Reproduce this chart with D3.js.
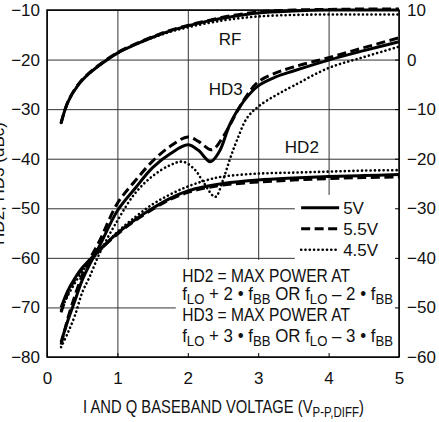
<!DOCTYPE html>
<html>
<head>
<meta charset="utf-8">
<script src="https://cdn.jsdelivr.net/npm/d3@7"></script>
<style>
  body { margin: 0; background: #fff; }
  svg text { font-family: "Liberation Sans", Arial, Helvetica, sans-serif; fill: #111; }
</style>
</head>
<body>
<div id="chart"></div>
<script>
// RF output (right axis, dBm) vs baseband voltage
const rfX = [0.2, 0.3, 0.45, 0.6, 0.75, 1.0, 1.25, 1.5, 1.75, 2.0, 2.3, 2.6, 3.0, 3.5, 4.0, 4.5, 5.0];
const rf5V = [-12.8, -8.5, -5.0, -2.8, -1.1, 1.3, 3.0, 4.5, 5.8, 6.8, 7.8, 8.6, 9.4, 9.8, 10.0, 10.0, 10.0];
const rf55V = [-12.8, -8.4, -4.9, -2.7, -1.0, 1.4, 3.1, 4.6, 5.9, 6.9, 7.9, 8.8, 9.6, 10.0, 10.1, 10.2, 10.2];
const rf45V = [-12.8, -8.5, -5.0, -2.8, -1.1, 1.3, 3.0, 4.4, 5.6, 6.5, 7.4, 8.1, 8.7, 9.0, 9.1, 9.1, 9.1];

// HD2 (left axis, dBc)
const hd2X = [0.2, 0.3, 0.4, 0.5, 0.6, 0.75, 1.0, 1.25, 1.5, 1.75, 2.0, 2.25, 2.5, 3.0, 3.5, 4.0, 4.5, 5.0];
const hd2_5V = [-70, -66.5, -64, -62, -60.5, -58.3, -55, -52.3, -50, -48, -46.5, -45.6, -45, -44.3, -43.9, -43.6, -43.4, -43.2];
const hd2_55V = [-71, -67, -64.3, -62.2, -60.6, -58.4, -55.2, -52.5, -50.2, -48.2, -46.8, -45.9, -45.3, -44.7, -44.3, -44.0, -43.8, -43.7];
const hd2_45V = [-70.5, -67.5, -65, -62.8, -61, -58.6, -54.8, -51.8, -49.2, -47.2, -45.6, -44.4, -43.6, -43.0, -42.8, -42.6, -42.4, -42.3];

// HD3 (left axis, dBc)
const hd3_5X = [0.2, 0.3, 0.4, 0.5, 0.6, 0.75, 1.0, 1.25, 1.5, 1.75, 2.0, 2.15, 2.32, 2.45, 2.6, 2.8, 3.0, 3.25, 3.5, 4.0, 4.5, 5.0];
const hd3_5V = [-77, -72.5, -68.5, -64.5, -61.5, -57.5, -50.5, -46, -41.8, -39, -37.2, -38.3, -40.6, -38.5, -33, -28.3, -25.3, -23.5, -22.3, -20.1, -18.2, -16.4];
const hd3_55X = [0.2, 0.3, 0.4, 0.5, 0.6, 0.75, 1.0, 1.25, 1.5, 1.75, 2.0, 2.15, 2.34, 2.5, 2.7, 2.85, 3.0, 3.25, 3.5, 4.0, 4.5, 5.0];
const hd3_55V = [-77.5, -72, -67.5, -63.5, -60.5, -56.5, -49, -44.5, -40.5, -37.5, -35.6, -36.5, -38.2, -35.6, -30.5, -27.0, -24.5, -22.7, -21.5, -19.6, -17.6, -15.6];
const hd3_45X = [0.2, 0.3, 0.4, 0.5, 0.6, 0.75, 1.0, 1.25, 1.5, 1.75, 1.93, 2.1, 2.22, 2.39, 2.5, 2.6, 2.7, 2.84, 3.0, 3.25, 3.5, 4.0, 4.5, 5.0];
const hd3_45V = [-78, -75, -71.5, -67, -64, -59, -52.5, -47, -43.5, -41.3, -40.6, -42.2, -44.7, -47.7, -44.3, -40, -36.2, -31.8, -29.5, -27.2, -25.3, -21.7, -19.5, -17.4];

const xTicks = [0, 1, 2, 3, 4, 5];
const leftTicks = [-80, -70, -60, -50, -40, -30, -20, -10];
const rightTicks = [-60, -50, -40, -30, -20, -10, 0, 10];
const legendLabels = ['5V', '5.5V', '4.5V'];

const width = 439, height = 422;
const margin = { top: 10, right: 40, bottom: 65, left: 47 };
const W = width - margin.left - margin.right;
const H = height - margin.top - margin.bottom;

const svg = d3.select('#chart').append('svg')
  .attr('width', width)
  .attr('height', height);

const g = svg.append('g').attr('transform', `translate(${margin.left},${margin.top})`);

const x = d3.scaleLinear().domain([0, 5]).range([0, W]);
const yL = d3.scaleLinear().domain([-80, -10]).range([H, 0]);
const yR = d3.scaleLinear().domain([-60, 10]).range([H, 0]);
const minus = d => d3.format('d')(d).replace('-', '\u2212');

// grid
g.append('g')
  .call(d3.axisBottom(x).tickValues(xTicks).tickSize(H).tickFormat(''))
  .call(s => s.select('.domain').remove())
  .call(s => s.selectAll('line').attr('stroke', '#333').attr('stroke-width', 1));
g.append('g')
  .call(d3.axisLeft(yL).tickValues(leftTicks).tickSize(-W).tickFormat(''))
  .call(s => s.select('.domain').remove())
  .call(s => s.selectAll('line').attr('stroke', '#333').attr('stroke-width', 1));

// white boxes behind legend and notes
const legX0 = 3.52, legTop = -47.3, noteX0 = 1.83, noteTop = -60.4;
g.append('rect')
  .attr('x', x(legX0)).attr('y', yL(legTop))
  .attr('width', x(5) - x(legX0)).attr('height', yL(noteTop) - yL(legTop))
  .attr('fill', '#fff');
g.append('rect')
  .attr('x', x(noteX0)).attr('y', yL(noteTop))
  .attr('width', x(5) - x(noteX0)).attr('height', H - yL(noteTop))
  .attr('fill', '#fff');

// small inside ticks
g.append('g').attr('transform', `translate(0,${H})`)
  .call(d3.axisBottom(x).tickValues(xTicks).tickSize(-4).tickFormat(''))
  .call(s => s.select('.domain').remove());
g.append('g').attr('transform', `translate(${W},0)`)
  .call(d3.axisRight(yR).tickValues(rightTicks).tickSize(-4).tickFormat(''))
  .call(s => s.select('.domain').remove());

// frame
g.append('rect').attr('width', W).attr('height', H)
  .attr('fill', 'none').attr('stroke', '#000').attr('stroke-width', 1.5);

// tick labels
g.append('g').attr('transform', `translate(0,${H})`)
  .call(d3.axisBottom(x).tickValues(xTicks).tickSize(0).tickPadding(15).tickFormat(d3.format('d')))
  .call(s => s.select('.domain').remove())
  .call(s => s.selectAll('text').attr('font-size', 17));
g.append('g')
  .call(d3.axisLeft(yL).tickValues(leftTicks).tickSize(0).tickPadding(7).tickFormat(minus))
  .call(s => s.select('.domain').remove())
  .call(s => s.selectAll('text').attr('font-size', 17));
g.append('g').attr('transform', `translate(${W},0)`)
  .call(d3.axisRight(yR).tickValues(rightTicks).tickSize(0).tickPadding(8).tickFormat(minus))
  .call(s => s.select('.domain').remove())
  .call(s => s.selectAll('text').attr('font-size', 17));

// text with subscripts, squeezed horizontally to a given width
// parts = [[text, isSub], ...]
function richText(parent, px, py, targetW, parts, size, subSize) {
  const holder = parent.append('g');
  const t = holder.append('text');
  let low = false;
  parts.forEach(([s, isSub]) => {
    const ts = t.append('tspan').text(s).attr('font-size', isSub ? subSize : size);
    if (isSub && !low) { ts.attr('dy', 4); low = true; }
    else if (!isSub && low) { ts.attr('dy', -4); low = false; }
  });
  const w = t.node().getComputedTextLength();
  holder.attr('transform', `translate(${px},${py}) scale(${targetW / w},1)`);
  return holder;
}

// axis titles
svg.append('text')
  .attr('transform', `translate(4,${margin.top + H / 2}) rotate(-90)`)
  .attr('text-anchor', 'middle').attr('font-size', 17)
  .text('HD2, HD3 (dBc)');
richText(svg, 83, 413, 281,
  [['I AND Q BASEBAND VOLTAGE (V', false], ['P-P,DIFF', true], [')', false]], 18, 14);

// line styles
const styles = {
  '5V': { width: 3, dash: null, cap: 'butt' },
  '5.5V': { width: 3, dash: '9,4.5', cap: 'butt' },
  '4.5V': { width: 2.6, dash: '0.1,4.2', cap: 'round' }
};

const series = [
  { xs: rfX, ys: rf5V, y: yR, v: '5V' },
  { xs: rfX, ys: rf55V, y: yR, v: '5.5V' },
  { xs: rfX, ys: rf45V, y: yR, v: '4.5V' },
  { xs: hd2X, ys: hd2_5V, y: yL, v: '5V' },
  { xs: hd2X, ys: hd2_55V, y: yL, v: '5.5V' },
  { xs: hd2X, ys: hd2_45V, y: yL, v: '4.5V' },
  { xs: hd3_5X, ys: hd3_5V, y: yL, v: '5V' },
  { xs: hd3_55X, ys: hd3_55V, y: yL, v: '5.5V' },
  { xs: hd3_45X, ys: hd3_45V, y: yL, v: '4.5V' }
];

series.forEach(s => {
  const pts = s.xs.map((d, i) => [d, s.ys[i]]);
  const line = d3.line().x(d => x(d[0])).y(d => s.y(d[1])).curve(d3.curveCatmullRom.alpha(0.5));
  const st = styles[s.v];
  g.append('path')
    .attr('d', line(pts))
    .attr('fill', 'none')
    .attr('stroke', '#000')
    .attr('stroke-width', st.width)
    .attr('stroke-linecap', st.cap)
    .attr('stroke-dasharray', st.dash);
});

// curve labels
g.append('text').attr('x', x(2.6)).attr('y', yL(-17.1)).attr('text-anchor', 'middle').attr('font-size', 17).text('RF');
g.append('text').attr('x', x(2.54)).attr('y', yL(-27.1)).attr('text-anchor', 'middle').attr('font-size', 17).text('HD3');
g.append('text').attr('x', x(3.62)).attr('y', yL(-38.8)).attr('text-anchor', 'middle').attr('font-size', 17).text('HD2');

// legend
const leg = g.append('g').attr('transform', `translate(${x(3.61)},${yL(-49.9)})`);
legendLabels.forEach((lab, i) => {
  const st = styles[lab];
  leg.append('line')
    .attr('x1', 0).attr('x2', 38).attr('y1', i * 21).attr('y2', i * 21)
    .attr('stroke', '#000').attr('stroke-width', st.width)
    .attr('stroke-linecap', st.cap).attr('stroke-dasharray', st.dash);
  leg.append('text').attr('x', 42).attr('y', i * 21 + 6).attr('font-size', 17).text(lab);
});

// notes
const nx = x(1.92), ny = yL(noteTop);
const noteLines = [
  { dy: 22, len: 168, parts: [['HD2 = MAX POWER AT', false]] },
  { dy: 40, len: 211, parts: [['f', false], ['LO', true], [' + 2 \u2022 f', false], ['BB', true], [' OR f', false], ['LO', true], [' \u2013 2 \u2022 f', false], ['BB', true]] },
  { dy: 61, len: 168, parts: [['HD3 = MAX POWER AT', false]] },
  { dy: 82, len: 211, parts: [['f', false], ['LO', true], [' + 3 \u2022 f', false], ['BB', true], [' OR f', false], ['LO', true], [' \u2013 3 \u2022 f', false], ['BB', true]] }
];
noteLines.forEach(l => richText(g, nx, ny + l.dy, l.len, l.parts, 18, 14));
</script>
</body>
</html>
